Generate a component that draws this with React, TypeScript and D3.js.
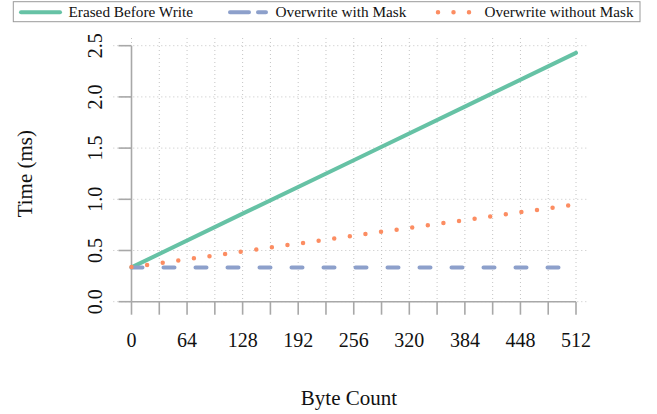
import React from "react";
import * as d3 from "d3";

const byteCounts = [0, 128, 256, 384, 512];
const erasedBeforeWrite = [0.335, 0.86, 1.382, 1.905, 2.43];
const overwriteWithMask = [0.335, 0.335, 0.335, 0.335, 0.335];
const overwriteWithoutMask = [0.338, 0.49, 0.645, 0.797, 0.95];

const xTicks = d3.range(0, 513, 32);
const xLabels = [0, 64, 128, 192, 256, 320, 384, 448, 512];
const yTicks = [0, 0.5, 1.0, 1.5, 2.0, 2.5];

const seriesNames = ["Erased Before Write", "Overwrite with Mask", "Overwrite without Mask"];
const colors = ["#66c2a5", "#8da0cb", "#fc8d62"];

export default function App() {
  const W = 657, H = 414;
  const x = d3.scaleLinear().domain([0, 512]).range([131.5, 576]);
  const y = d3.scaleLinear().domain([0, 2.5]).range([301.7, 45.7]);
  const gx0 = 113.3, gx1 = 588.3, gy0 = 38, gy1 = 301.7;
  const axisColor = "#a8a8a8";
  const gridColor = "#c4c4c4";
  const font = "Liberation Serif, DejaVu Serif, serif";

  const line = d3
    .line<[number, number]>()
    .x((d) => x(d[0]))
    .y((d) => y(d[1]));
  const mk = (vals: number[]) => byteCounts.map((b, i) => [b, vals[i]] as [number, number]);

  const legendItems = [
    { name: seriesNames[0], color: colors[0], x0: 21, x1: 60, dash: undefined, tx: 68.5, tw: 124.5, w: 4 },
    { name: seriesNames[1], color: colors[1], x0: 230, x1: 266, dash: "19 9", tx: 275.5, tw: 131, w: 4 },
    { name: seriesNames[2], color: colors[2], x0: 438, x1: 469.5, dash: "0 15.5", tx: 484.5, tw: 149, w: 4.5 },
  ];

  return (
    <svg width={W} height={H} style={{ position: "absolute", left: 0, top: 0, fontFamily: font }}>
      <rect width={W} height={H} fill="white" />
      {/* grid */}
      <g stroke={gridColor} strokeWidth={1} strokeDasharray="1 3">
        {xTicks.map((t) => (
          <line key={"gx" + t} x1={x(t)} x2={x(t)} y1={gy0} y2={gy1} />
        ))}
        {yTicks.map((t) => (
          <line key={"gy" + t} x1={gx0} x2={gx1} y1={y(t)} y2={y(t)} />
        ))}
      </g>
      {/* axes */}
      <g stroke={axisColor} strokeWidth={1.6} fill="none">
        <line x1={x(0)} x2={x(512)} y1={y(0)} y2={y(0)} />
        <line x1={x(0)} x2={x(0)} y1={y(0)} y2={y(2.5)} />
        {xTicks.map((t) => (
          <line key={"xt" + t} x1={x(t)} x2={x(t)} y1={y(0)} y2={y(0) + 13} />
        ))}
        {yTicks.map((t) => (
          <line key={"yt" + t} x1={x(0) - 13} x2={x(0)} y1={y(t)} y2={y(t)} />
        ))}
      </g>
      {/* tick labels */}
      <g fontSize={20} fill="#111" textAnchor="middle">
        {xLabels.map((t) => (
          <text key={"xl" + t} x={x(t)} y={346.5}>
            {t}
          </text>
        ))}
        {yTicks.map((t) => (
          <text key={"yl" + t} transform={`translate(101.7,${y(t)}) rotate(-90)`}>
            {t.toFixed(1)}
          </text>
        ))}
      </g>
      {/* axis titles */}
      <text x={349} y={405} fontSize={21} textAnchor="middle" fill="#111">
        Byte Count
      </text>
      <text transform={`translate(32,${(y(0) + y(2.5)) / 2}) rotate(-90)`} fontSize={21} textAnchor="middle" fill="#111">
        Time (ms)
      </text>
      {/* series */}
      <path d={line(mk(erasedBeforeWrite)) || ""} fill="none" stroke={colors[0]} strokeWidth={4} strokeLinecap="round" />
      <path
        d={line(mk(overwriteWithMask)) || ""}
        fill="none"
        stroke={colors[1]}
        strokeWidth={4}
        strokeLinecap="round"
        strokeDasharray="11 21"
      />
      <path
        d={line(mk(overwriteWithoutMask)) || ""}
        fill="none"
        stroke={colors[2]}
        strokeWidth={4.5}
        strokeLinecap="round"
        strokeDasharray="0 15.75"
      />
      {/* legend */}
      <rect x={13.3} y={1.7} width={626.7} height={20} fill="white" stroke="#9a9a9a" strokeWidth={1} />
      {legendItems.map((it) => (
        <g key={it.name}>
          <line
            x1={it.x0}
            x2={it.x1}
            y1={12.2}
            y2={12.2}
            stroke={it.color}
            strokeWidth={it.w}
            strokeLinecap="round"
            strokeDasharray={it.dash}
          />
          <text x={it.tx} y={17.3} fontSize={14} fill="#111" textLength={it.tw} lengthAdjust="spacingAndGlyphs">
            {it.name}
          </text>
        </g>
      ))}
    </svg>
  );
}
